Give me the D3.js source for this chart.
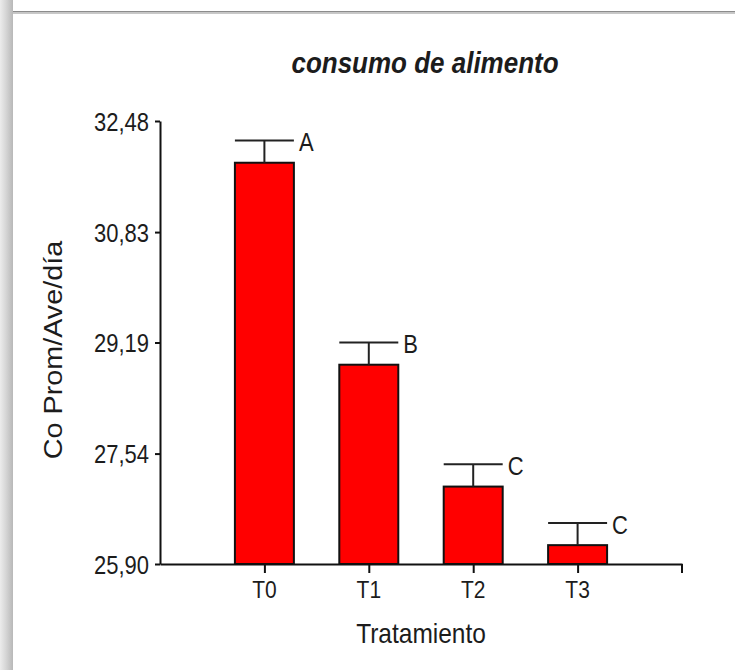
<!DOCTYPE html>
<html>
<head>
<meta charset="utf-8">
<script src="https://cdn.jsdelivr.net/npm/d3@7"></script>
<style>
  html, body { margin: 0; padding: 0; background: #fff; }
  svg { display: block; }
</style>
</head>
<body>
<div id="chart"></div>
<script>
// Data
const categories = ['T0', 'T1', 'T2', 'T3'];
const means      = [31.86, 28.86, 27.05, 26.18];
const errors     = [0.33, 0.33, 0.33, 0.33];
const letters    = ['A', 'B', 'C', 'C'];
const yTicks     = [25.90, 27.54, 29.19, 30.83, 32.48];

const W = 735, H = 670;
const FONT = '"Liberation Sans", Arial, sans-serif';
const STRETCH = 1.15; // source picture is a bit taller than wide

const svg = d3.select('#chart').append('svg')
  .attr('width', W).attr('height', H);

// Frame of the screenshot: grey band on the left, line on top
const shade = svg.append('defs').append('linearGradient').attr('id', 'shade');
shade.append('stop').attr('offset', '0%').attr('stop-color', '#ececec');
shade.append('stop').attr('offset', '45%').attr('stop-color', '#d6d6d6');
shade.append('stop').attr('offset', '100%').attr('stop-color', '#b8b8b8');
svg.append('rect').attr('x', 0).attr('y', 0).attr('width', 13).attr('height', H).attr('fill', 'url(#shade)');
svg.append('rect').attr('x', 13).attr('y', 11).attr('width', W - 13).attr('height', 1.5).attr('fill', '#8c8c8c');
svg.append('rect').attr('x', 13).attr('y', 12.5).attr('width', W - 13).attr('height', 1.5).attr('fill', '#c8c8c8');

const x = d3.scalePoint().domain(categories).range([160, 682]).padding(1);
const y = d3.scaleLinear().domain([25.90, 32.48]).range([564, 121]);
const barW = x.step() * 0.565;

const comma = d3.formatLocale({ decimal: ',', thousands: '.', grouping: [3], currency: ['', ''] }).format('.2f');

function label(g, tx, ty, text, size, opts = {}) {
  const t = g.append('text')
    .attr('transform', `translate(${tx},${ty}) scale(1,${STRETCH})` + (opts.rotate ? ` rotate(${opts.rotate})` : ''))
    .attr('text-anchor', opts.anchor || 'middle')
    .attr('dominant-baseline', opts.baseline || 'auto')
    .attr('font-family', FONT)
    .attr('font-size', size)
    .attr('fill', '#1c1c1c')
    .text(text);
  if (opts.weight) t.attr('font-weight', opts.weight);
  if (opts.style) t.attr('font-style', opts.style);
  return t;
}

// Bars
svg.selectAll('rect.bar')
  .data(categories)
  .join('rect')
  .attr('class', 'bar')
  .attr('x', d => x(d) - barW / 2)
  .attr('y', (d, i) => y(means[i]))
  .attr('width', barW)
  .attr('height', (d, i) => y.range()[0] - y(means[i]))
  .attr('fill', '#ff0000')
  .attr('stroke', '#111')
  .attr('stroke-width', 2);

// Error bars (upper half only) with caps
const eb = svg.append('g').attr('stroke', '#222').attr('stroke-width', 2);
categories.forEach((c, i) => {
  eb.append('line')
    .attr('x1', x(c)).attr('x2', x(c))
    .attr('y1', y(means[i])).attr('y2', y(means[i] + errors[i]));
  eb.append('line')
    .attr('x1', x(c) - barW / 2).attr('x2', x(c) + barW / 2)
    .attr('y1', y(means[i] + errors[i])).attr('y2', y(means[i] + errors[i]));
  label(svg, x(c) + barW / 2 + 5, y(means[i] + errors[i]) + 4, letters[i], 22, { anchor: 'start', baseline: 'middle' });
});

// Y axis
svg.append('g')
  .attr('transform', 'translate(160,0)')
  .call(d3.axisLeft(y).tickValues(yTicks).tickSize(5).tickSizeOuter(0).tickFormat(''))
  .call(ax => ax.select('.domain').attr('stroke', '#111').attr('stroke-width', 2))
  .call(ax => ax.selectAll('line').attr('stroke', '#111').attr('stroke-width', 2));

yTicks.forEach(v => label(svg, 149, y(v) + 3, comma(v), 22, { anchor: 'end', baseline: 'middle' }));

// X axis
svg.append('g')
  .attr('transform', 'translate(0,564)')
  .call(d3.axisBottom(x).tickSize(9).tickSizeOuter(0).tickFormat(''))
  .call(ax => ax.select('.domain').attr('stroke', '#111').attr('stroke-width', 2))
  .call(ax => ax.selectAll('line').attr('stroke', '#111').attr('stroke-width', 2));

svg.append('line')
  .attr('x1', x.range()[1]).attr('x2', x.range()[1])
  .attr('y1', 564).attr('y2', 573)
  .attr('stroke', '#111').attr('stroke-width', 2);

categories.forEach(c => label(svg, x(c), 598, c, 21));

// Titles
label(svg, 421, 643, 'Tratamiento', 24.5);
label(svg, 62, 350, 'Co Prom/Ave/día', 25, { rotate: -90 });
label(svg, 425, 73, 'consumo de alimento', 26, { weight: 'bold', style: 'italic' });
</script>
</body>
</html>
